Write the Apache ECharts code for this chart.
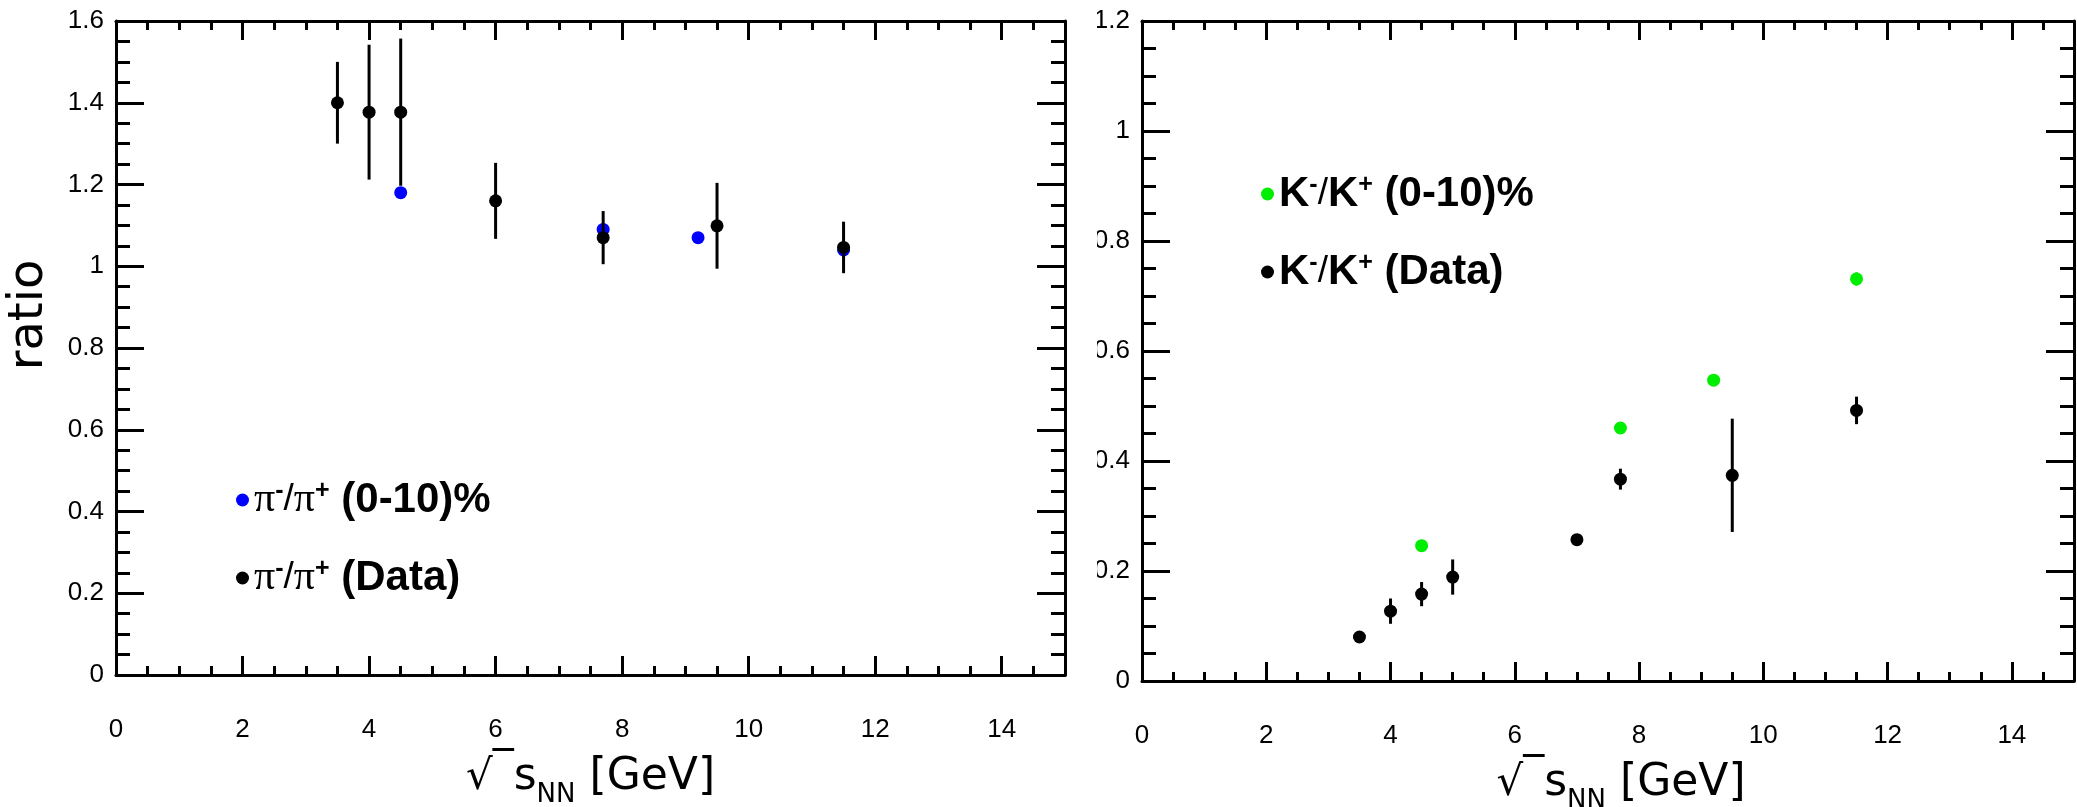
<!DOCTYPE html>
<html>
<head>
<meta charset="UTF-8">
<title>ratio vs sqrt(sNN)</title>
<script src="https://cdn.jsdelivr.net/npm/echarts@6/dist/echarts.min.js"></script>
<style>
  html, body { margin: 0; padding: 0; background: #fff; }
  #left  { position: absolute; left: 0; top: 0; width: 1097px; height: 807px; }
  #right { position: absolute; left: 1097px; top: 0; width: 980px; height: 807px; }
</style>
</head>
<body>
<div id="left"></div>
<div id="right"></div>
<script>
// pion ratio, data points with errors
const piX = [3.5, 4.0, 4.5, 6.0, 7.7, 9.5, 11.5];
const piData = [1.40, 1.377, 1.377, 1.160, 1.070, 1.099, 1.046];
const piErr = [0.10, 0.165, 0.18, 0.093, 0.065, 0.105, 0.063];
// pion ratio, (0-10)% points
const piModelX = [4.5, 7.7, 9.2, 11.5];
const piModel = [1.18, 1.09, 1.07, 1.04];

// kaon ratio, data points with errors
const kX = [3.5, 4.0, 4.5, 5.0, 7.0, 7.7, 9.5, 11.5];
const kData = [0.08, 0.127, 0.158, 0.189, 0.257, 0.367, 0.374, 0.492];
const kErr = [0, 0.023, 0.022, 0.032, 0, 0.019, 0.103, 0.025];
// kaon ratio, (0-10)% points
const kModelX = [4.5, 7.7, 9.2, 11.5];
const kModel = [0.246, 0.46, 0.547, 0.731];
const kModelErr = [0, 0, 0, 0.012];

const xMin = 0, xMax = 15, xStep = 2;
const piYMax = 1.6, kYMax = 1.2, yStep = 0.2;

const BLACK = '#000';
const tickFont = 'Liberation Sans';

function xAxisDef(pos) {
    return {
        type: 'value', position: pos, min: xMin, max: xMax, interval: xStep,
        axisLine: { onZero: false, lineStyle: { color: BLACK, width: 3 } },
        axisTick: { inside: true, length: 19, lineStyle: { color: BLACK, width: 3 } },
        minorTick: { show: true, splitNumber: 4, length: 9, lineStyle: { color: BLACK, width: 3 } },
        splitLine: { show: false },
        axisLabel: {
            show: pos === 'bottom', margin: 42, fontSize: 26, fontFamily: tickFont,
            color: BLACK, showMaxLabel: false
        }
    };
}

function yAxisDef(pos, max) {
    return {
        type: 'value', position: pos, min: 0, max: max, interval: yStep,
        axisLine: { onZero: false, lineStyle: { color: BLACK, width: 3 } },
        axisTick: { inside: true, length: 28, lineStyle: { color: BLACK, width: 3 } },
        minorTick: { show: true, splitNumber: 4, length: 14, lineStyle: { color: BLACK, width: 3 } },
        splitLine: { show: false },
        axisLabel: { show: pos === 'left', margin: 12, fontSize: 26, fontFamily: tickFont, color: BLACK }
    };
}

function errSeries(xs, ys, es, color) {
    const pts = [];
    xs.forEach((x, i) => { if (es[i] > 0) pts.push([x, ys[i], es[i]]); });
    return {
        type: 'custom', silent: true, z: 3, clip: false,
        encode: { x: 0, y: 1 },
        data: pts,
        renderItem: function (params, api) {
            const x = api.value(0), y = api.value(1), e = api.value(2);
            const p1 = api.coord([x, y + e]);
            const p2 = api.coord([x, y - e]);
            return {
                type: 'line',
                shape: { x1: p1[0], y1: p1[1], x2: p2[0], y2: p2[1] },
                style: { stroke: color, lineWidth: 3 }
            };
        }
    };
}

function pointSeries(name, xs, ys, color, z) {
    return {
        type: 'scatter', name: name, z: z, symbol: 'circle', symbolSize: 13,
        itemStyle: { color: color, opacity: 1 },
        data: xs.map((x, i) => [x, ys[i]])
    };
}

const legendRich = {
    pi: { fontFamily: 'Liberation Serif', fontSize: 42, color: BLACK, lineHeight: 42 },
    sl: { fontFamily: 'Liberation Sans', fontSize: 37, color: BLACK, lineHeight: 42 },
    sup: { fontFamily: 'Liberation Sans', fontSize: 25, fontWeight: 'bold', color: BLACK, verticalAlign: 'top', lineHeight: 16 },
    b: { fontFamily: 'Liberation Sans', fontSize: 42, fontWeight: 'bold', color: BLACK, lineHeight: 42 }
};

const nameRich = {
    sq: { fontFamily: 'DejaVu Sans', fontSize: 42, color: BLACK, lineHeight: 60 },
    bar: { fontFamily: 'DejaVu Sans', fontSize: 42, color: BLACK, verticalAlign: 'top', lineHeight: 26 },
    s: { fontFamily: 'DejaVu Sans', fontSize: 44, color: BLACK, lineHeight: 60 },
    sub: { fontFamily: 'DejaVu Sans', fontSize: 26, color: BLACK, verticalAlign: 'bottom', lineHeight: 18 }
};
const xName = '{sq|√}{bar|‾}{s|s}{sub|NN}{s| [GeV]}';

function makeOption(cfg) {
    const bottomX = xAxisDef('bottom');
    bottomX.name = xName;
    bottomX.nameLocation = 'middle';
    bottomX.nameGap = cfg.nameGap;
    bottomX.nameTextStyle = { rich: nameRich, padding: cfg.namePad };
    const leftY = yAxisDef('left', cfg.yMax);
    if (cfg.yName) {
        leftY.name = cfg.yName;
        leftY.nameLocation = 'middle';
        leftY.nameGap = 62;
        leftY.nameTextStyle = { fontFamily: 'DejaVu Sans', fontSize: 48, color: BLACK, padding: [0, 0, 0, 66] };
    }
    return {
        animation: false,
        backgroundColor: '#fff',
        grid: cfg.grid,
        xAxis: [bottomX, xAxisDef('top')],
        yAxis: [leftY, yAxisDef('right', cfg.yMax)],
        legend: {
            orient: 'vertical', left: cfg.legendLeft, top: cfg.legendTop, itemGap: cfg.legendGap,
            icon: 'circle', itemWidth: 13, itemHeight: 13, selectedMode: false,
            data: cfg.legendNames,
            formatter: function (name) { return cfg.legendText[name]; },
            textStyle: { rich: legendRich }
        },
        series: cfg.series
    };
}

const piModelName = 'pi model';
const piDataName = 'pi data';
const kModelName = 'K model';
const kDataName = 'K data';

const leftChart = echarts.init(document.getElementById('left'));
leftChart.setOption(makeOption({
    grid: { left: 116, top: 21, width: 949, height: 654, containLabel: false, outerBoundsMode: 'none' },
    yMax: piYMax,
    yName: 'ratio',
    nameGap: 70,
    namePad: [0, 0, 0, 0],
    legendLeft: 231, legendTop: 474, legendGap: 36,
    legendNames: [piModelName, piDataName],
    legendText: {
        [piModelName]: '{pi|π}{sup|-}{sl|/}{pi|π}{sup|+}{b| (0-10)%}',
        [piDataName]: '{pi|π}{sup|-}{sl|/}{pi|π}{sup|+}{b| (Data)}'
    },
    series: [
        pointSeries(piModelName, piModelX, piModel, '#0000ff', 2),
        errSeries(piX, piData, piErr, BLACK),
        pointSeries(piDataName, piX, piData, BLACK, 4)
    ]
}));

const rightChart = echarts.init(document.getElementById('right'));
rightChart.setOption(makeOption({
    grid: { left: 45, top: 21, width: 932, height: 660, containLabel: false, outerBoundsMode: 'none' },
    yMax: kYMax,
    yName: null,
    nameGap: 64,
    namePad: [0, 0, 0, 26],
    legendLeft: 159, legendTop: 168, legendGap: 36,
    legendNames: [kModelName, kDataName],
    legendText: {
        [kModelName]: '{b|K}{sup|-}{sl|/}{b|K}{sup|+}{b| (0-10)%}',
        [kDataName]: '{b|K}{sup|-}{sl|/}{b|K}{sup|+}{b| (Data)}'
    },
    series: [
        errSeries(kModelX, kModel, kModelErr, '#00ee00'),
        pointSeries(kModelName, kModelX, kModel, '#00ee00', 2),
        errSeries(kX, kData, kErr, BLACK),
        pointSeries(kDataName, kX, kData, BLACK, 4)
    ]
}));
</script>
</body>
</html>
